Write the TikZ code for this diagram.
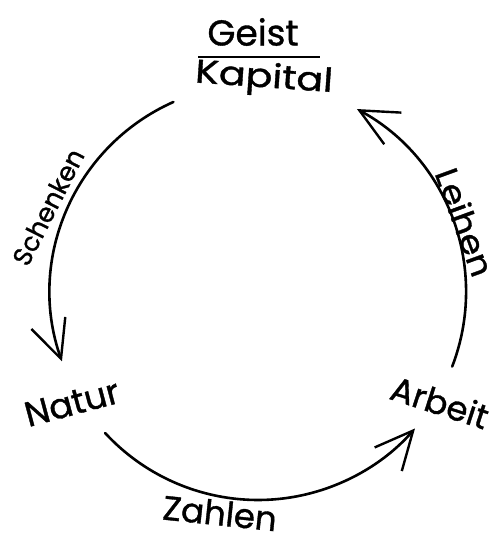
\documentclass[tikz,border=0pt]{standalone}
\usepackage{fontspec}
\setmainfont{Poppins}[FakeBold=1]
\usetikzlibrary{arrows.meta}
\begin{document}
\begin{tikzpicture}[x=1pt,y=1pt,
  lbl/.style={inner sep=0pt},
  conn/.style={line width=2.6pt, line cap=round, -{Straight Barb[length=38pt,width=36pt,line width=2.4pt]}},
  bar/.style={line width=2.2pt}
]
\useasboundingbox (0,0) rectangle (494,540);
\coordinate (C) at (258,248);
% nodes
\node[lbl, font=\fontsize{36}{38}\selectfont] (geist) at (253,508) {Geist};
\coordinate (barL) at (198,483);
\coordinate (barR) at (320,483);
\draw[bar] (barL) -- (barR);
\node[lbl, font=\fontsize{33}{35}\selectfont] (kapital) at (264,461) {\rotatebox{-4}{\scalebox{1.2}[1]{Kapital}}};
\node[lbl, font=\fontsize{35}{37}\selectfont] (natur) at (72,137) {\rotatebox{15}{Natur}};
\node[lbl, font=\fontsize{34}{36}\selectfont] (arbeit) at (440,138) {\rotatebox{-18}{Arbeit}};
% arc end points
\path (C) ++(114:208) coordinate (s1);
\path (C) ++(222.7:208) coordinate (z1);
\path (C) ++(339:208) coordinate (l1);
% connectors
\draw[conn] (s1) arc[start angle=114, end angle=199.5, radius=208];
\draw[conn] (z1) arc[start angle=222.7, end angle=319, radius=208];
\draw[conn] (l1) arc[start angle=339, end angle=421.6, radius=208];
% labels
\node[lbl, font=\fontsize{26}{28}\selectfont] (schenken) at (48,333) {\rotatebox{63}{Schenken}};
\node[lbl, font=\fontsize{32}{34}\selectfont] (leihen) at (465,318) {\rotatebox{-70}{\scalebox{1.1}[1]{Leihen}}};
\node[lbl, font=\fontsize{34}{36}\selectfont] (zahlen) at (220,27) {\rotatebox{-6}{Zahlen}};
\end{tikzpicture}
\end{document}
